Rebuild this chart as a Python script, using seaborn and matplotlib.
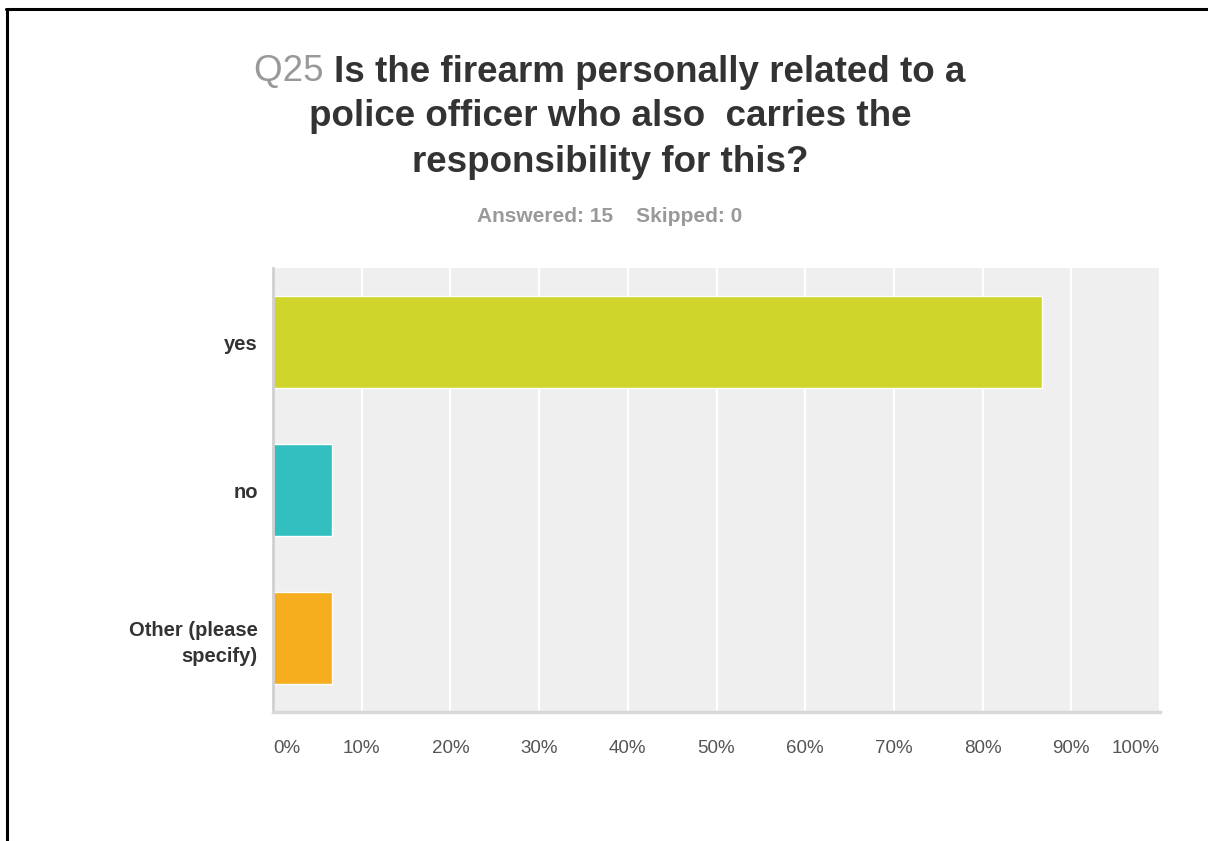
import matplotlib
matplotlib.use("Agg")
import matplotlib.pyplot as plt
from matplotlib.lines import Line2D
import seaborn as sns
import pandas as pd

# Survey answers (share of respondents, %)
categories = ["yes", "no", "Other (please\nspecify)"]
shares = [86.67, 6.67, 6.67]
bar_colors = ["#CFD52A", "#33BEBF", "#F6AE1F"]
tick_values = [0, 10, 20, 30, 40, 50, 60, 70, 80, 90, 100]
tick_labels = [f"{v}%" for v in tick_values]

question_no = "Q25"
title_lines = ["Is the firearm personally related to a",
               "police officer who also  carries the",
               "responsibility for this?"]
subtitle = "Answered: 15    Skipped: 0"

FONT = "Liberation Sans"
sns.set_theme(style="white")
plt.rcParams["font.family"] = [FONT, "DejaVu Sans"]

W, H = 1208, 841
fig = plt.figure(figsize=(W / 100, H / 100), dpi=100)
ax = fig.add_axes([273 / W, 1 - 712 / H, (1160 - 273) / W, (712 - 268) / H])

df = pd.DataFrame({"answer": categories, "share": shares})
sns.barplot(data=df, x="share", y="answer", hue="answer", palette=bar_colors,
            orient="h", width=0.62, legend=False, saturation=1, ax=ax)

ax.set_facecolor("#EFEFEF")
ax.set_xlim(0, 100)
ax.set_ylim(2.5, -0.5)
ax.set_xticks(tick_values)
ax.set_xticklabels(tick_labels)
ax.xaxis.grid(True, color="white", linewidth=1.6)
ax.set_axisbelow(True)
ax.set_xlabel("")
ax.set_ylabel("")
for side in ["top", "right"]:
    ax.spines[side].set_visible(False)
ax.spines["left"].set_color("#D0D0D0")
ax.spines["left"].set_linewidth(2)
ax.spines["bottom"].set_color("#D8D8D8")
ax.spines["bottom"].set_linewidth(2.5)
ax.tick_params(axis="x", length=0, pad=20, labelsize=13.5, labelcolor="#555555")
ax.tick_params(axis="y", length=0, pad=11)
xt = ax.get_xticklabels()
xt[0].set_ha("left")
xt[-1].set_ha("right")
for lbl in ax.get_yticklabels():
    lbl.set_fontweight("bold")
    lbl.set_fontsize(14.5)
    lbl.set_color("#333333")
    lbl.set_ha("right")
    lbl.set_multialignment("right")
    lbl.set_linespacing(1.45)

# Title: grey question number followed by the dark question text
cx = 610 / W
tsize = 26.5
renderer = fig.canvas.get_renderer()
q = fig.text(0, 1 - 72 / H, question_no + " ", fontsize=tsize, color="#999999",
             va="center", ha="left")
r = fig.text(0, 1 - 72 / H, title_lines[0], fontsize=tsize, color="#333333",
             fontweight="bold", va="center", ha="left")
wq = q.get_window_extent(renderer).width
wr = r.get_window_extent(renderer).width
x0 = cx * W - (wq + wr) / 2
q.set_x(x0 / W)
r.set_x((x0 + wq) / W)
for i, line in enumerate(title_lines[1:], start=1):
    fig.text(cx, 1 - (72 + 45 * i) / H, line, fontsize=tsize, color="#333333",
             fontweight="bold", va="center", ha="center")

fig.text(cx, 1 - 217 / H, subtitle, fontsize=15, color="#999999",
         fontweight="bold", va="center", ha="center")

# Frame lines along the top and left edges
fig.add_artist(Line2D([6 / W, 1], [1 - 9 / H, 1 - 9 / H], color="black",
                      linewidth=2.2, transform=fig.transFigure))
fig.add_artist(Line2D([7 / W, 7 / W], [0, 1 - 9 / H], color="black",
                      linewidth=2.2, transform=fig.transFigure))

fig.savefig("out.png", dpi=100, facecolor="white")
